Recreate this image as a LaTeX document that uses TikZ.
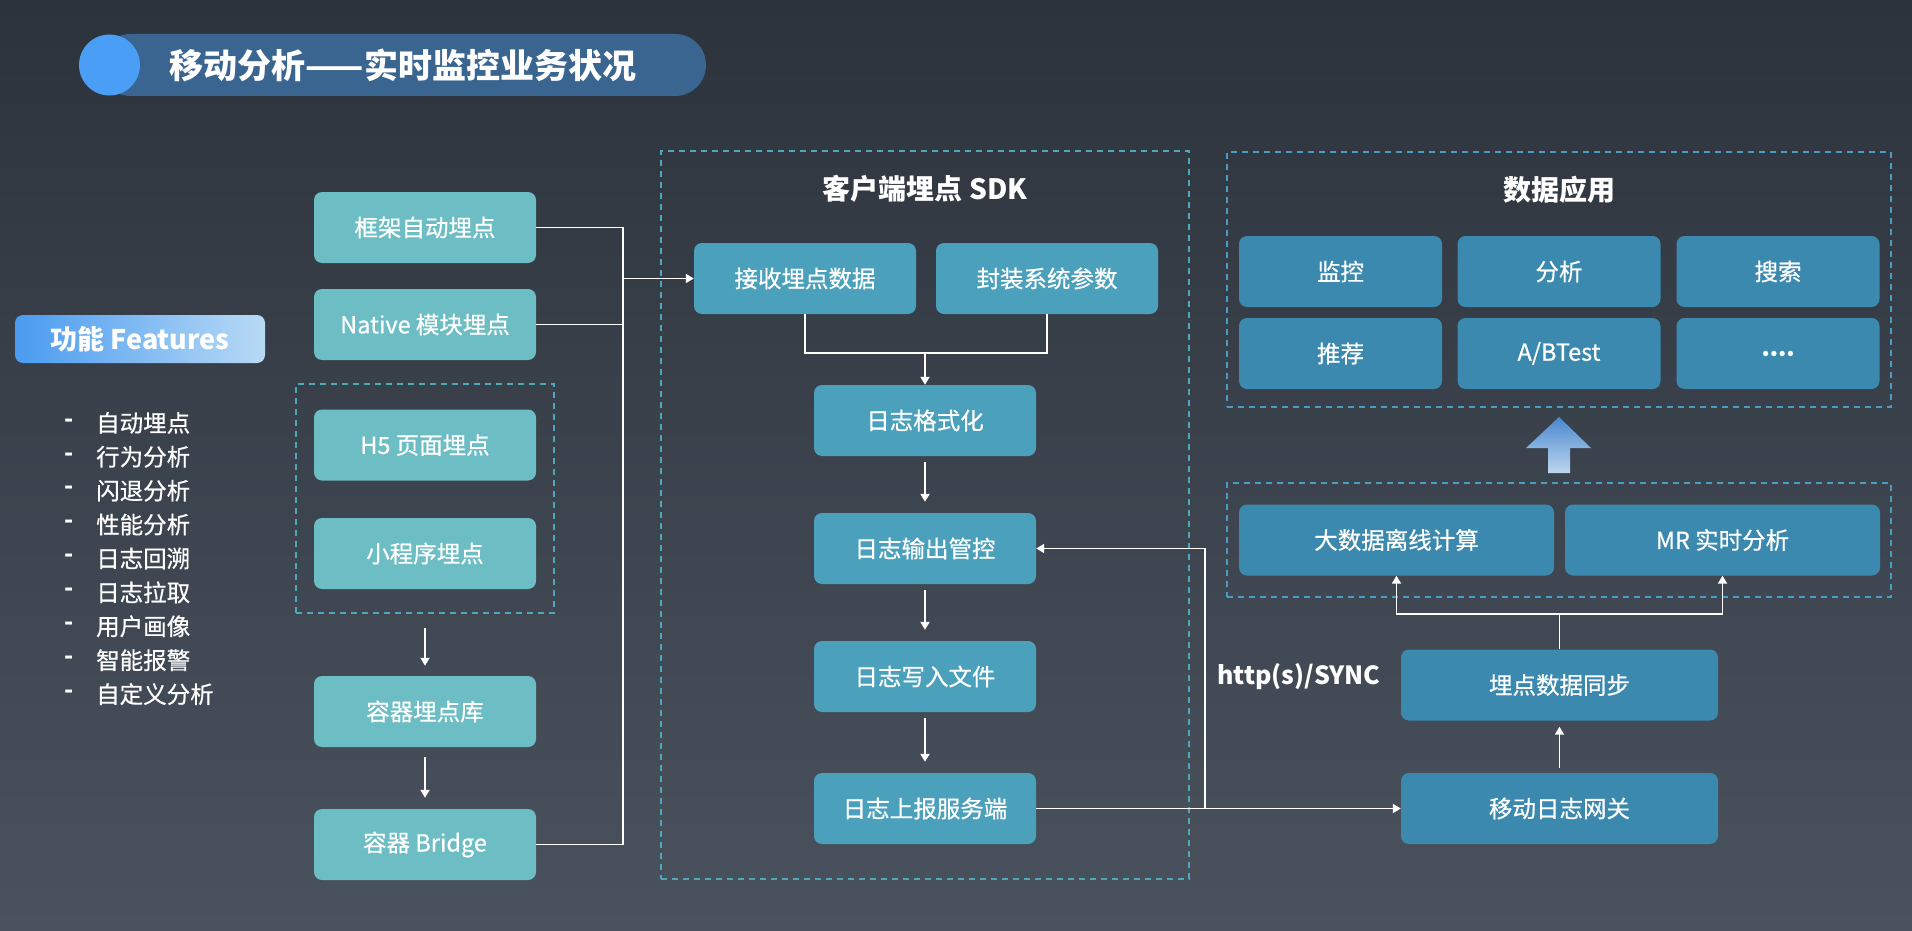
\documentclass[tikz,border=0pt]{standalone}
\usepackage{fontspec}
\setmainfont{Noto Sans CJK SC}
\newfontfamily\medfont{Noto Sans CJK SC}[FakeBold=0.6]
\usetikzlibrary{positioning,arrows.meta,shapes,fit}

\definecolor{bgTop}{HTML}{2C333C}
\definecolor{bgBot}{HTML}{4A525E}
\definecolor{barBlue}{HTML}{3A6590}
\definecolor{dotBlue}{HTML}{4A9EF5}
\definecolor{featLeft}{HTML}{4A9BF0}
\definecolor{featRight}{HTML}{B8DAF5}
\definecolor{teal}{HTML}{6DBDC5}
\definecolor{sdkBlue}{HTML}{4BA1BC}
\definecolor{appBlue}{HTML}{3C89AF}
\definecolor{dashTeal}{HTML}{4FA8B8}
\definecolor{dashBlue}{HTML}{4A9DC2}
\definecolor{upTop}{HTML}{4A88CE}
\definecolor{upBot}{HTML}{BCD6EE}

\tikzset {
    style A/.style={
        fill=teal,
        text=white,
        rectangle, % Set the shape as a rectangle
        rounded corners=8pt,
        minimum width=222pt,
        minimum height=71pt,
        inner sep=0pt,
        font=\medfont\fontsize{23.5}{28}\selectfont,
        align=center,
    },
    style B/.style={
        style A,
        fill=sdkBlue,
    },
    style C/.style={
        style A,
        fill=appBlue,
    },
    style D/.style={
        draw=dashTeal,
        line width=2.5pt,
        dash pattern=on 6pt off 5pt,
        rectangle,
        inner sep=0pt,
    },
    style E/.style={
        text=white,
        font=\fontsize{28}{32}\selectfont\bfseries,
        align=center,
    },
    link/.style={draw=white, line width=1.8pt},
    >={Triangle[length=8pt,width=9pt]},
}

\begin{document}
\begin{tikzpicture}[x=1pt, y=-1pt]

\shade[top color=bgTop, bottom color=bgBot] (0,0) rectangle (1912,931);
\useasboundingbox (0,0) rectangle (1912,931);

% title bar
\fill[barBlue, rounded corners=31pt] (100,34) rectangle (706,96);
\fill[dotBlue] (109.5,65) circle (30.5);
\node[text=white, font=\fontsize{34}{38}\selectfont\bfseries] (mainTitle) at (403,65) {移动分析——实时监控业务状况};

% features
\node[left color=featLeft, right color=featRight, rounded corners=8pt, minimum width=250pt, minimum height=48pt,
      text=white, font=\fontsize{27}{30}\selectfont\bfseries] (features) at (140,339) {功能 Features};
\foreach \txt [count=\i] in {自动埋点,行为分析,闪退分析,性能分析,日志回溯,日志拉取,用户画像,智能报警,自定义分析} {
    \node[text=white, font=\fontsize{24}{26}\selectfont\bfseries] (dash\i) at (69,{389+33.9*\i}) {-};
    \node[anchor=west, text=white, inner sep=0pt, font=\medfont\fontsize{23.5}{26}\selectfont] (feat\i) at (96,{389+33.9*\i}) {\txt};
}

% collection side
\node[style A] at (425,227.5) (frame) {框架自动埋点};
\node[style A] at (425,324.5) (native) {Native 模块埋点};
\node[style D, minimum width=258pt, minimum height=229pt] at (425,498.5) (webGroup) {};
\node[style A] at (425,445) (hfive) {H5 页面埋点};
\node[style A] at (425,553.5) (mini) {小程序埋点};
\node[style A] at (425,711.5) (lib) {容器埋点库};
\node[style A] at (425,844.5) (bridge) {容器 Bridge};

% sdk
\node[style D, minimum width=528pt, minimum height=728pt] at (925,515) (sdk) {};
\node[style E] at (925,189) (sdkTitle) {客户端埋点 SDK};
\node[style B] at (805,278.5) (recv) {接收埋点数据};
\node[style B] at (1047,278.5) (pack) {封装系统参数};
\node[style B] at (925,420.5) (fmt) {日志格式化};
\node[style B] at (925,548.5) (ctrl) {日志输出管控};
\node[style B] at (925,676.5) (write) {日志写入文件};
\node[style B] at (925,808.5) (upload) {日志上报服务端};

% data side
\node[style D, draw=dashBlue, minimum width=664pt, minimum height=255pt] at (1559,279.5) (appGroup) {};
\node[style E] at (1559,190) (appTitle) {数据应用};
\node[style C, minimum width=203pt] at (1340.5,271.5) (monitor) {监控};
\node[style C, minimum width=203pt] at (1559,271.5) (analysis) {分析};
\node[style C, minimum width=203pt] at (1778,271.5) (search) {搜索};
\node[style C, minimum width=203pt] at (1340.5,353.5) (recommend) {推荐};
\node[style C, minimum width=203pt] at (1559,353.5) (abtest) {A/BTest};
\node[style C, minimum width=203pt] at (1778,353.5) (more) {\bfseries ....};
\node[style D, draw=dashBlue, minimum width=664pt, minimum height=114pt] at (1559,540) (calcGroup) {};
\node[style C, minimum width=315pt] at (1396.5,540) (offline) {大数据离线计算};
\node[style C, minimum width=315pt] at (1722.5,540) (mr) {MR 实时分析};
\node[style C, minimum width=317pt] at (1559.5,685) (sync) {埋点数据同步};
\node[style C, minimum width=317pt] at (1559.5,808.5) (gateway) {移动日志网关};
\node[anchor=west, text=white, inner sep=0pt, font=\fontsize{25}{28}\selectfont\bfseries] at (1217,677) (proto) {http(s)/SYNC};

\shade[top color=upTop, bottom color=upBot] (1559,417) -- (1591,448) -- (1570,448) -- (1570,473)
    -- (1548,473) -- (1548,448) -- (1526,448) -- cycle;

% connectors
\coordinate[left=71pt of recv.west] (bus);
\draw[link, ->] (frame.east) -| (bus) -- (recv.west);
\draw[link] (native.east) -| (bus);
\draw[link] (bridge.east) -| (bus);
\draw[link, ->, shorten <=14pt, shorten >=10pt] (webGroup.south) -- (lib.north);
\draw[link, ->, shorten <=10pt, shorten >=11pt] (lib.south) -- (bridge.north);

\coordinate (merge) at (925,353);
\draw[link] (recv.south) |- (merge) -| (pack.south);
\draw[link, ->] (merge) -- (fmt.north);
\draw[link, ->, shorten <=6pt, shorten >=11pt] (fmt.south) -- (ctrl.north);
\draw[link, ->, shorten <=6pt, shorten >=11pt] (ctrl.south) -- (write.north);
\draw[link, ->, shorten <=6pt, shorten >=11pt] (write.south) -- (upload.north);

\coordinate (junc) at (1205,808.5);
\draw[link, ->] (upload.east) -- (gateway.west);
\draw[link, ->] (junc) |- (ctrl.east);

\draw[link, ->, shorten <=5pt, shorten >=6pt] (gateway.north) -- (sync.south);
\coordinate (split) at (1559.5,614);
\draw[link] (sync.north) -- (split);
\draw[link, ->] (split) -| (offline.south);
\draw[link, ->] (split) -| (mr.south);
\end{tikzpicture}
\end{document}
